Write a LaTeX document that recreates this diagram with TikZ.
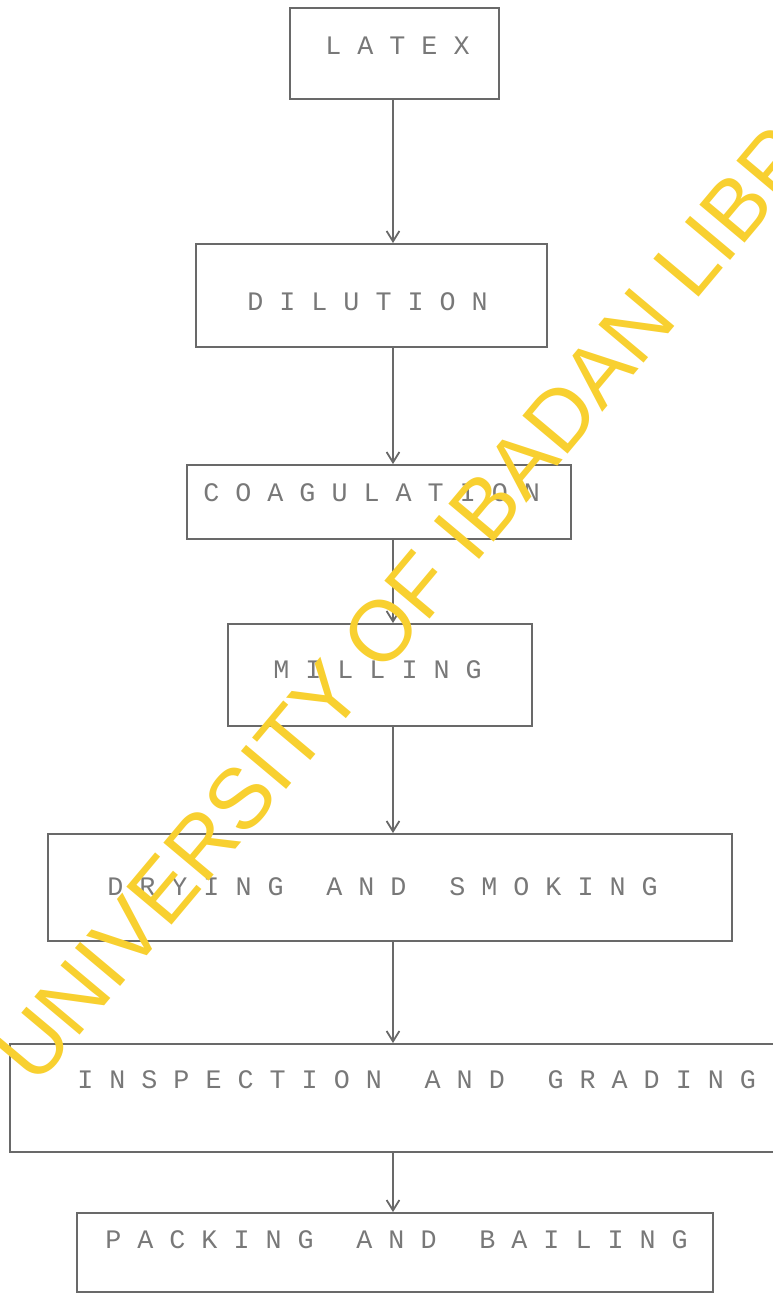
\documentclass[tikz,border=0pt]{standalone}
\usepackage{fontspec}
\usetikzlibrary{arrows.meta}
\newfontfamily\typewriter{Liberation Mono}
\newfontfamily\stampfont{Liberation Sans}
\newdimen\px \px=0.025cm
\newcommand\wordgap{\hspace{1.6em}}
\definecolor{inkgray}{RGB}{105,105,105}
\definecolor{typegray}{RGB}{120,120,120}
\definecolor{stampyellow}{RGB}{248,208,48}

\begin{document}
\begin{tikzpicture}[x=1\px, y=-1\px]
    % Processing of latex into sheet rubber (typed flow sheet)
    \tikzset{stepbox/.style={draw=inkgray, line width=1.8\px, inner sep=0pt, rectangle},
             steplabel/.style={anchor=base west, inner sep=0pt, text=typegray, font=\typewriter\fontsize{19}{22}\selectfont},
             flowarrow/.style={draw=inkgray, line width=1.8\px, -{Straight Barb[length=2.6mm, width=3.2mm]}},
             watermark/.style={anchor=base west, inner sep=0pt, text=stampyellow, rotate=50, font=\stampfont\fontsize{61}{64}\selectfont}}
    \useasboundingbox (0,0) rectangle (773,1294);
    \clip (0,0) rectangle (773,1294);
    \coordinate (spine) at (393,0);
    % boxes
    \node[stepbox, minimum width=209\px, minimum height=91\px] (latex) at (394.5,53.5) {};
    \node[stepbox, minimum width=351\px, minimum height=103\px] (dilution) at (371.5,295.5) {};
    \node[stepbox, minimum width=384\px, minimum height=74\px] (coagulation) at (379,502) {};
    \node[stepbox, minimum width=304\px, minimum height=102\px] (milling) at (380,675) {};
    \node[stepbox, minimum width=684\px, minimum height=107\px] (drying) at (390,887.5) {};
    \node[stepbox, minimum width=780\px, minimum height=108\px] (inspection) at (400,1098) {};
    \node[stepbox, minimum width=636\px, minimum height=79\px] (packing) at (395,1252.5) {};
    % typed labels
    \node[steplabel] (latextxt) at (325,55) {L A T E X};
    \node[steplabel] (dilutiontxt) at (247,310) {D I L U T I O N};
    \node[steplabel] (coagulationtxt) at (203,501) {C O A G U L A T I O N};
    \node[steplabel] (millingtxt) at (273,678) {M I L L I N G};
    \node[steplabel] (dryingtxt) at (107,895) {D R Y I N G\wordgap A N D\wordgap S M O K I N G};
    \node[steplabel] (inspectiontxt) at (77,1088) {I N S P E C T I O N\wordgap A N D\wordgap G R A D I N G};
    \node[steplabel] (packingtxt) at (105,1248) {P A C K I N G\wordgap A N D\wordgap B A I L I N G};
    % connectors
    \draw[flowarrow] (latex.south -| spine) -- (dilution.north -| spine);
    \draw[flowarrow] (dilution.south -| spine) -- (coagulation.north -| spine);
    \draw[flowarrow] (coagulation.south -| spine) -- (milling.north -| spine);
    \draw[flowarrow] (milling.south -| spine) -- (drying.north -| spine);
    \draw[flowarrow] (drying.south -| spine) -- (inspection.north -| spine);
    \draw[flowarrow] (inspection.south -| spine) -- (packing.north -| spine);
    % library stamp
    \node[watermark] (stamp) at (36,1088) {UNIVERSITY OF IBADAN LIBRARY};
\end{tikzpicture}
\end{document}
